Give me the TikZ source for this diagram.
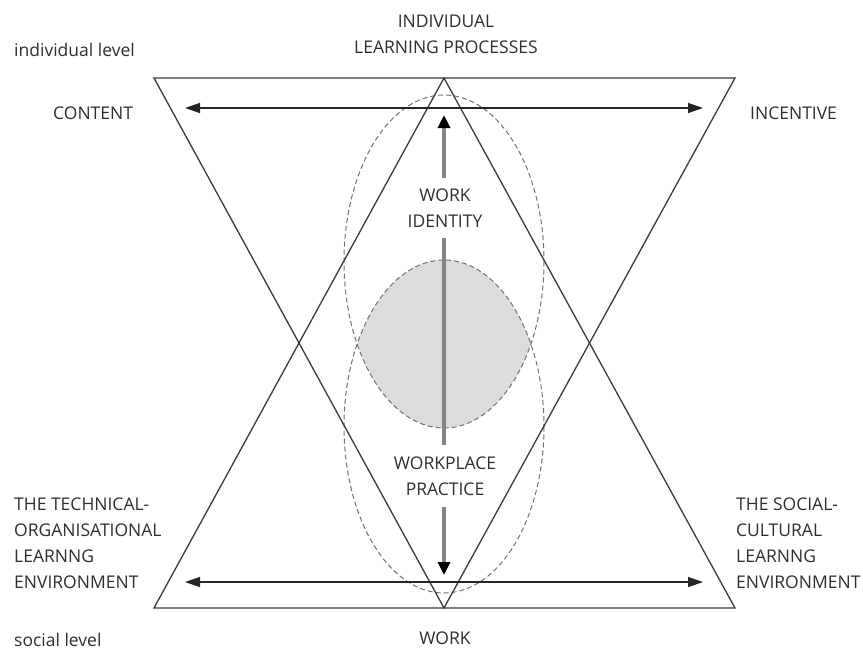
\documentclass[tikz,border=0pt]{standalone}
\usepackage{fontspec}
\setmainfont{Open Sans}
\usetikzlibrary{arrows.meta}
\definecolor{txt}{HTML}{2E2E2E}
\definecolor{edge}{HTML}{3A3A3A}
\definecolor{lens}{HTML}{DCDCDC}
\definecolor{dash}{HTML}{707070}
\definecolor{vline}{HTML}{858585}
\begin{document}
\begin{tikzpicture}[x=1pt,y=-1pt,
  lbl/.style={text=txt,font=\fontsize{17.5}{26}\selectfont,inner sep=0pt},
  tri/.style={draw=edge,line width=1.3pt,line join=miter},
  harrow/.style={draw=black!85,line width=1.3pt,{Triangle[length=15pt,width=10pt]}-{Triangle[length=15pt,width=10pt]}},
  vseg/.style={draw=vline,line width=3.8pt},
  vhead/.style={draw=vline,line width=3.8pt,-{Triangle[length=13pt,width=12pt,color=black]}},
  ell/.style={draw=dash,line width=1pt,dash pattern=on 5pt off 3pt}
]
\useasboundingbox (0,0) rectangle (863,651);
% corners
\coordinate (TL) at (154,78);
\coordinate (TR) at (735,78);
\coordinate (BL) at (154,608);
\coordinate (BR) at (735,608);
\coordinate (AT) at (444,78);
\coordinate (AB) at (444,608);
% lens
\begin{scope}
  \clip (444,261.5) ellipse [x radius=100, y radius=166.5];
  \fill[lens] (444,426.5) ellipse [x radius=100, y radius=166.5];
\end{scope}
\draw[ell] (444,261.5) ellipse [x radius=100, y radius=166.5];
\draw[ell] (444,426.5) ellipse [x radius=100, y radius=166.5];
% triangles
\draw[tri] (TL) -- (TR) -- (AB) -- cycle;
\draw[tri] (BL) -- (BR) -- (AT) -- cycle;
% horizontal arrows
\coordinate (hl1) at (185,108);
\coordinate (hr1) at (703,108);
\coordinate (hl2) at (185,582);
\coordinate (hr2) at (703,582);
\draw[harrow] (hl1) -- (hr1);
\draw[harrow] (hl2) -- (hr2);
% labels
\node[lbl,anchor=west] (indiv) at (14,50) {individual level};
\node[lbl,align=center] (ilp) at (446,34) {INDIVIDUAL\\LEARNING PROCESSES};
\node[lbl,anchor=west] (content) at (53,113) {CONTENT};
\node[lbl,anchor=west] (incentive) at (750,113) {INCENTIVE};
\node[lbl,align=center,minimum height=60pt] (wi) at (445,208) {WORK\\IDENTITY};
\node[lbl,align=center,minimum height=62pt] (wp) at (445,476) {WORKPLACE\\PRACTICE};
\node[lbl,anchor=west,align=left] (tech) at (14,543) {THE TECHNICAL-\\ORGANISATIONAL\\LEARNNG\\ENVIRONMENT};
\node[lbl,anchor=west,align=left] (soc) at (736,543) {THE SOCIAL-\\CULTURAL\\LEARNNG\\ENVIRONMENT};
\node[lbl,anchor=west] (social) at (14,640) {social level};
\node[lbl] (work) at (445,638) {WORK};
% vertical arrow
\coordinate (vt) at (444,115);
\coordinate (vb) at (444,575);
\draw[vhead] (wi.north -| vt) -- (vt);
\draw[vseg] (wi.south -| vt) -- (wp.north -| vt);
\draw[vhead] (wp.south -| vb) -- (vb);
\end{tikzpicture}
\end{document}
